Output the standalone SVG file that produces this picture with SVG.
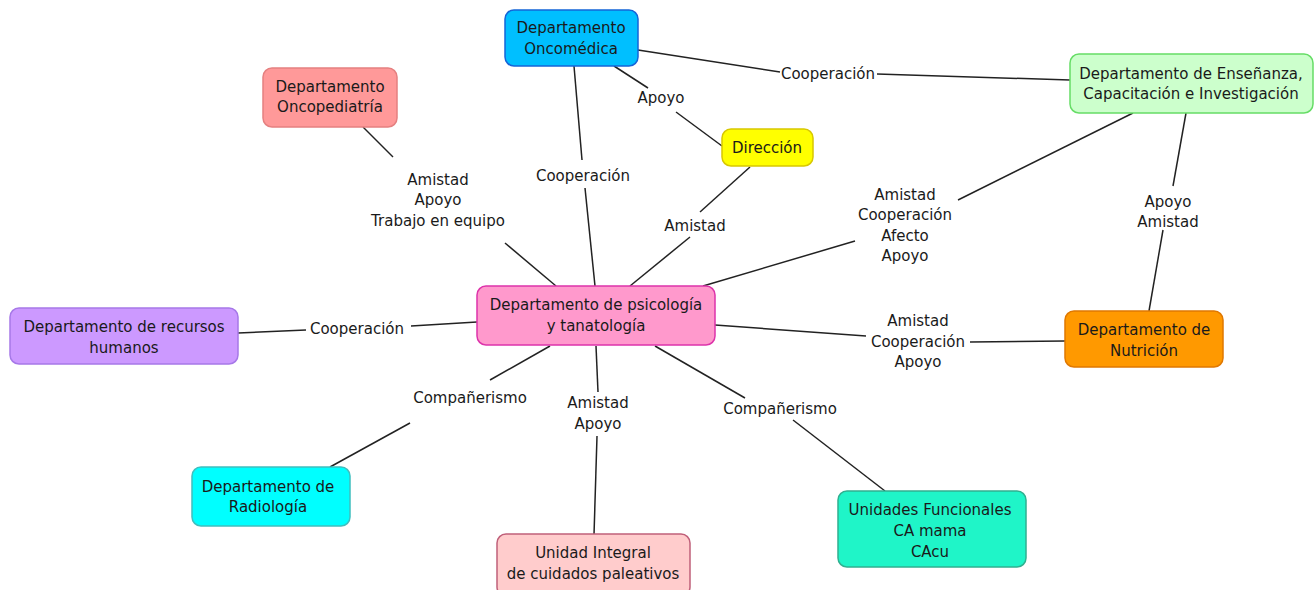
<svg xmlns="http://www.w3.org/2000/svg" width="1316" height="590" viewBox="0 0 1316 590">
<style>
text{font-family:"DejaVu Sans","Liberation Sans",sans-serif;font-size:15px;fill:#1a1a1a;text-anchor:middle}
.c line{stroke:#222;stroke-width:1.5}
.n rect{stroke-width:1.5}
</style>
<rect width="1316" height="590" fill="#fff"/>
<g class="c" id="connectors">
<line x1="614" y1="66" x2="648" y2="88"/>
<line x1="676" y1="112" x2="722" y2="146"/>
<line x1="638" y1="50" x2="780" y2="72"/>
<line x1="877" y1="74" x2="1070" y2="80"/>
<line x1="574" y1="66" x2="582" y2="160"/>
<line x1="585" y1="188" x2="595" y2="286"/>
<line x1="750" y1="167" x2="700" y2="212"/>
<line x1="690" y1="237" x2="630" y2="286"/>
<line x1="363" y1="127" x2="393" y2="157"/>
<line x1="505" y1="243" x2="556" y2="286"/>
<line x1="1133" y1="113" x2="958" y2="200"/>
<line x1="855" y1="241" x2="703" y2="286"/>
<line x1="1186" y1="113" x2="1173" y2="186"/>
<line x1="1163" y1="230" x2="1149" y2="311"/>
<line x1="715" y1="325" x2="866" y2="336"/>
<line x1="970" y1="342" x2="1065" y2="341"/>
<line x1="238" y1="333" x2="306" y2="330"/>
<line x1="411" y1="326" x2="477" y2="322"/>
<line x1="550" y1="346" x2="490" y2="380"/>
<line x1="410" y1="423" x2="330" y2="467"/>
<line x1="596" y1="346" x2="598" y2="392"/>
<line x1="597" y1="436" x2="594" y2="535"/>
<line x1="655" y1="346" x2="745" y2="398"/>
<line x1="793" y1="420" x2="885" y2="491"/>
</g>
<g id="labels">
<text x="661" y="103">Apoyo</text>
<text x="828" y="79">Cooperación</text>
<text x="583" y="181">Cooperación</text>
<text x="695" y="231">Amistad</text>
<text x="438" y="185">Amistad</text>
<text x="438" y="205">Apoyo</text>
<text x="438" y="226">Trabajo en equipo</text>
<text x="905" y="200">Amistad</text>
<text x="905" y="220">Cooperación</text>
<text x="905" y="241">Afecto</text>
<text x="905" y="261">Apoyo</text>
<text x="1168" y="207">Apoyo</text>
<text x="1168" y="227">Amistad</text>
<text x="918" y="326">Amistad</text>
<text x="918" y="347">Cooperación</text>
<text x="918" y="367">Apoyo</text>
<text x="357" y="334">Cooperación</text>
<text x="470" y="403">Compañerismo</text>
<text x="598" y="408">Amistad</text>
<text x="598" y="429">Apoyo</text>
<text x="780" y="414">Compañerismo</text>
</g>
<g class="n" id="n-oncomedica"><rect x="505" y="10" width="133" height="56" rx="9" fill="#00BFFF" stroke="#1565d8"/><text x="571" y="33">Departamento</text><text x="571" y="54">Oncomédica</text></g>
<g class="n" id="n-oncopediatria"><rect x="263" y="68" width="134" height="59" rx="9" fill="#FF9999" stroke="#e58080"/><text x="330" y="92">Departamento</text><text x="330" y="112">Oncopediatría</text></g>
<g class="n" id="n-direccion"><rect x="722" y="129" width="91" height="37" rx="9" fill="#FFFF00" stroke="#d8c800"/><text x="767" y="153">Dirección</text></g>
<g class="n" id="n-ensenanza"><rect x="1070" y="54" width="243" height="59" rx="9" fill="#CCFFCC" stroke="#66dd66"/><text x="1191" y="79">Departamento de Enseñanza,</text><text x="1191" y="99">Capacitación e Investigación</text></g>
<g class="n" id="n-psicologia"><rect x="477" y="286" width="238" height="59" rx="9" fill="#FF99CC" stroke="#dd33aa"/><text x="596" y="310">Departamento de psicología</text><text x="596" y="331">y tanatología</text></g>
<g class="n" id="n-rrhh"><rect x="10" y="308" width="228" height="56" rx="9" fill="#CC99FF" stroke="#a678e8"/><text x="124" y="332">Departamento de recursos</text><text x="124" y="353">humanos</text></g>
<g class="n" id="n-nutricion"><rect x="1065" y="311" width="158" height="56" rx="9" fill="#FF9900" stroke="#e07800"/><text x="1144" y="335">Departamento de</text><text x="1144" y="356">Nutrición</text></g>
<g class="n" id="n-radiologia"><rect x="192" y="467" width="158" height="59" rx="9" fill="#00FFFF" stroke="#3fbfbf"/><text x="268" y="492">Departamento de</text><text x="268" y="512">Radiología</text></g>
<g class="n" id="n-paliativos"><rect x="497" y="534" width="193" height="62" rx="9" fill="#FFCCCC" stroke="#c0607a"/><text x="593" y="558">Unidad Integral</text><text x="593" y="579">de cuidados paleativos</text></g>
<g class="n" id="n-unidades"><rect x="838" y="491" width="188" height="76" rx="9" fill="#1FF5C8" stroke="#30b090"/><text x="930" y="515">Unidades Funcionales</text><text x="930" y="536">CA mama</text><text x="930" y="557">CAcu</text></g>
</svg>
